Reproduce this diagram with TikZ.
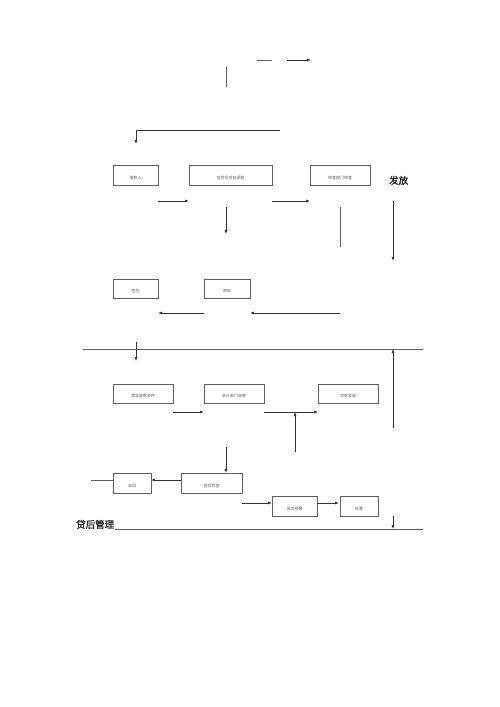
\documentclass[tikz,border=0pt]{standalone}
\usepackage{fontspec}
\setmainfont{Noto Sans CJK SC}
\newfontfamily\headfont[FakeBold=1.5]{Noto Sans CJK SC}
\usetikzlibrary{arrows.meta}
\tikzset{
	stage/.style={draw=gray!75!black, line width=0.6pt, minimum height=20pt, inner sep=0pt},
	tinytext/.style={font=\fontsize{4}{4}\selectfont, text=gray!70!black, anchor=south, yshift=2pt},
	flow/.style={-{Latex[length=4pt,width=3pt]}, line width=0.6pt, draw=black!80},
	rule/.style={line width=0.6pt, draw=gray!75!black},
	heading/.style={font=\headfont\fontsize{9.5}{9.5}\selectfont, text=black!85}
}
\begin{document}
\begin{tikzpicture}[x=1pt, y=-1pt]
	\useasboundingbox (0,0) rectangle (500,707);
	
	%top part
	\coordinate (t1) at (226,67);  \coordinate (t2) at (226,87);
	\coordinate (d1) at (257,60);  \coordinate (d2) at (272,60);
	\coordinate (d3) at (287,60);  \coordinate (d4) at (311,60);
	\coordinate (r1) at (280,130); \coordinate (r2) at (136,130); \coordinate (r3) at (136,144);
	\draw[rule] (t1) -- (t2);
	\draw[rule] (d1) -- (d2);
	\draw[flow] (d3) -- (d4);
	\draw[flow] (r1) -- (r2) -- (r3);
	
	%row 1
	\node[stage, minimum width=45pt] (apply) at (135.5,175) [label={[tinytext]south:借款人}]{};
	\node[stage, minimum width=83pt] (survey) at (230.5,175) [label={[tinytext]south:信贷员贷前调查}]{};
	\node[stage, minimum width=60pt] (review) at (340,175) [label={[tinytext]south:审查部门审查}]{};
	\node[heading, anchor=base west, inner sep=0pt] (issue) at (389,184) {发放};
	
	\coordinate (a1) at (158,201); \coordinate (a2) at (189,201);
	\coordinate (a3) at (272,201); \coordinate (a4) at (310,201);
	\coordinate (a5) at (226,207); \coordinate (a6) at (226,234);
	\coordinate (a7) at (340,207); \coordinate (a8) at (340,247);
	\coordinate (a9) at (393,201); \coordinate (a10) at (393,261);
	\draw[flow] (a1) -- (a2);
	\draw[flow] (a3) -- (a4);
	\draw[flow] (a5) -- (a6);
	\draw[rule] (a7) -- (a8);
	\draw[flow] (a9) -- (a10);
	
	%row 2
	\node[stage, minimum width=45pt, minimum height=19pt] (sign) at (135.5,288.5) [label={[tinytext]south:签约}]{};
	\node[stage, minimum width=46pt, minimum height=19pt] (approve) at (227,288.5) [label={[tinytext]south:审批}]{};
	\coordinate (b1) at (204,313); \coordinate (b2) at (158,313);
	\coordinate (b3) at (340,313); \coordinate (b4) at (250,313);
	\draw[flow] (b1) -- (b2);
	\draw[flow] (b3) -- (b4);
	
	%first rule
	\coordinate (l1) at (83,349); \coordinate (l2) at (423,349);
	\draw[rule] (l1) -- (l2);
	\coordinate (c1) at (136,342); \coordinate (c2) at (136,361);
	\coordinate (c3) at (393,428); \coordinate (c4) at (393,349);
	\draw[flow] (c1) -- (c2);
	\draw[flow] (c3) -- (c4);
	
	%row 3
	\node[stage, minimum width=60pt, minimum height=19pt] (terms) at (143,393.5) [label={[tinytext]south:落实放款条件}]{};
	\node[stage, minimum width=60pt, minimum height=19pt] (account) at (234,393.5) [label={[tinytext]south:会计部门放款}]{};
	\node[stage, minimum width=60pt, minimum height=19pt] (loan) at (348,393.5) [label={[tinytext]south:贷款发放}]{};
	\coordinate (e1) at (173,412); \coordinate (e2) at (204,412);
	\coordinate (e3) at (264,412); \coordinate (e4) at (318,412);
	\coordinate (e5) at (295,452); \coordinate (e6) at (295,412);
	\draw[flow] (e1) -- (e2);
	\draw[flow] (e3) -- (e4);
	\draw[flow] (e5) -- (e6);
	
	%row 4
	\node[stage, minimum width=38pt] (recover) at (132,483) [label={[tinytext]south:收回}]{};
	\node[stage, minimum width=61pt] (check) at (211.5,483) [label={[tinytext]south:贷后检查}]{};
	\coordinate (f1) at (226,447); \coordinate (f2) at (226,473);
	\coordinate (f3) at (181,480); \coordinate (f4) at (151,480);
	\coordinate (f5) at (91,480);  \coordinate (f6) at (113,480);
	\draw[flow] (f1) -- (f2);
	\draw[flow] (f3) -- (f4);
	\draw[rule] (f5) -- (f6);
	
	%row 5
	\node[stage, minimum width=45pt] (warn) at (294.5,506) [label={[tinytext]south:风险预警}]{};
	\node[stage, minimum width=38pt] (handle) at (359,506) [label={[tinytext]south:处置}]{};
	\coordinate (g1) at (242,503); \coordinate (g2) at (272,503);
	\coordinate (g3) at (317,503); \coordinate (g4) at (339,503);
	\draw[flow] (g1) -- (g2);
	\draw[flow] (g3) -- (g4);
	
	%bottom rule
	\node[heading, anchor=base west, inner sep=0pt] (after) at (76,528) {贷后管理};
	\coordinate (h1) at (115,529); \coordinate (h2) at (423,529);
	\coordinate (h3) at (393,516); \coordinate (h4) at (393,529);
	\draw[rule] (h1) -- (h2);
	\draw[flow] (h3) -- (h4);
\end{tikzpicture}
\end{document}
